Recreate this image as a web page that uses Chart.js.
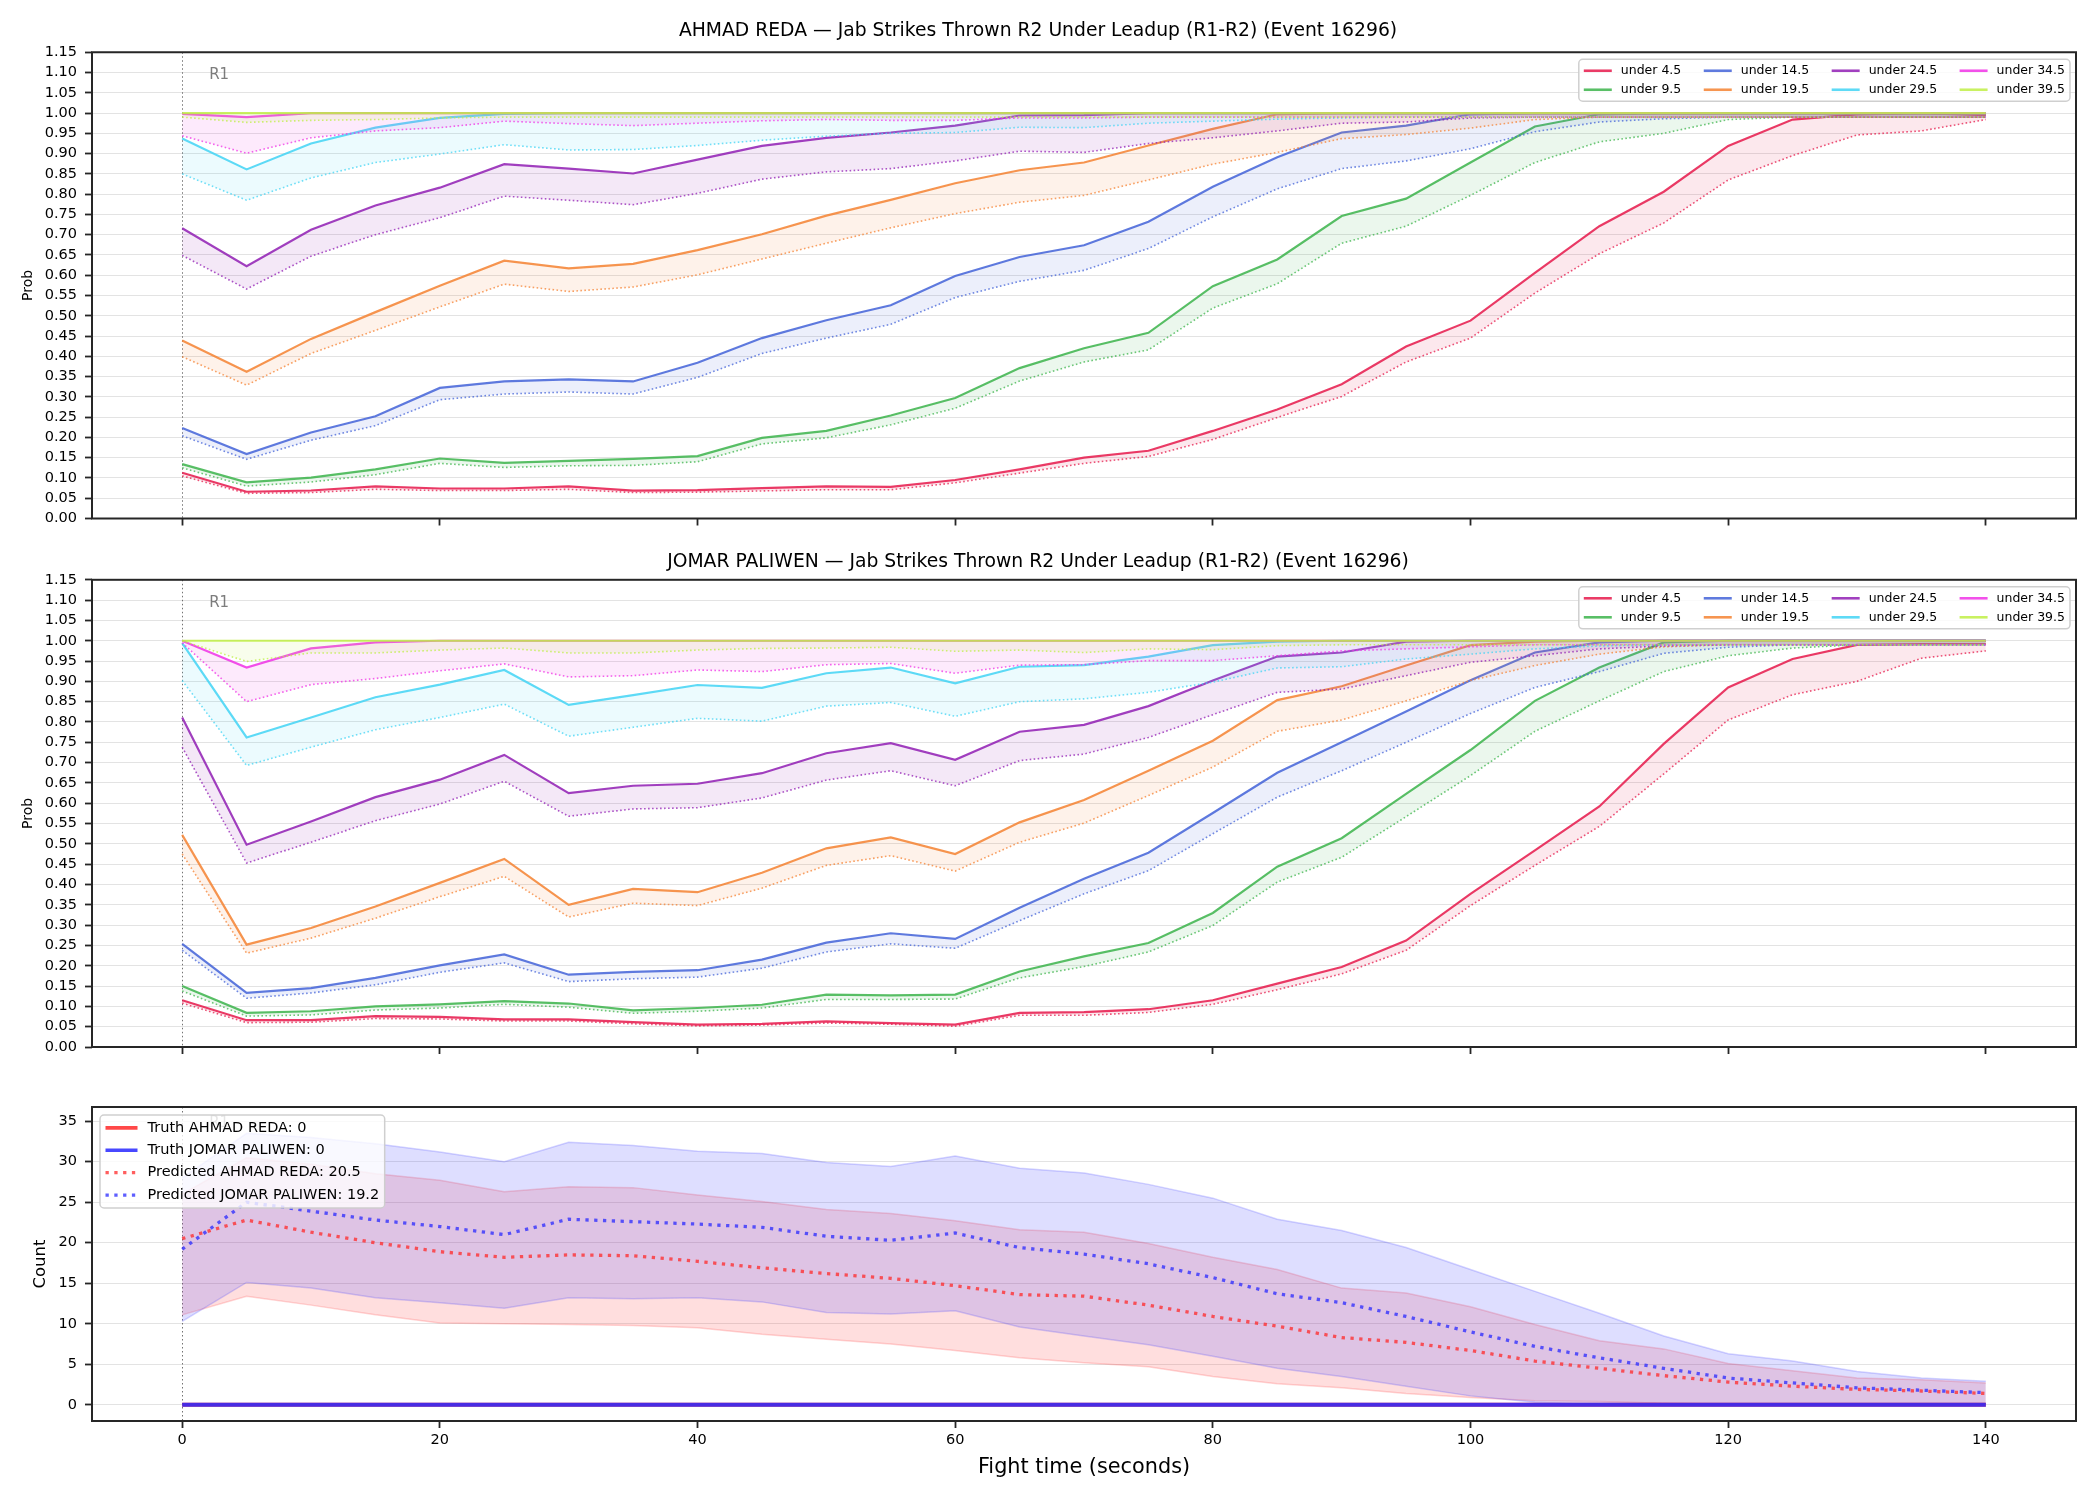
<!DOCTYPE html>
<html>
<head>
<meta charset="utf-8">
<script src="https://cdn.jsdelivr.net/npm/chart.js@4.4.1/dist/chart.umd.min.js"></script>
<style>
html,body{margin:0;padding:0;background:#ffffff;}
body{width:2100px;height:1500px;position:relative;overflow:hidden;}
canvas{position:absolute;left:0;}
</style>
</head>
<body>
<canvas id="c1" width="2100" height="540" style="top:0px"></canvas>
<canvas id="c2" width="2100" height="540" style="top:540px"></canvas>
<canvas id="c3" width="2100" height="420" style="top:1080px"></canvas>
<script>
// ---------------- DATA ----------------
const times = [0,5,10,15,20,25,30,35,40,45,50,55,60,65,70,75,80,85,90,95,100,105,110,115,120,125,130,135,140];
const thresholds = ['under 4.5','under 9.5','under 14.5','under 19.5','under 24.5','under 29.5','under 34.5','under 39.5'];
const xTickValues = [0,20,40,60,80,100,120,140];
const probTickValues = [0.00,0.05,0.10,0.15,0.20,0.25,0.30,0.35,0.40,0.45,0.50,0.55,0.60,0.65,0.70,0.75,0.80,0.85,0.90,0.95,1.00,1.05,1.10,1.15];
const countTickValues = [0,5,10,15,20,25,30,35];
const roundStarts = [0];
const roundNames = ['R1'];
const titleReda = 'AHMAD REDA — Jab Strikes Thrown R2 Under Leadup (R1-R2) (Event 16296)';
const titlePaliwen = 'JOMAR PALIWEN — Jab Strikes Thrown R2 Under Leadup (R1-R2) (Event 16296)';

// AHMAD REDA: solid line and dotted line per threshold
const reda_u4_5 = [0.113,0.066,0.069,0.079,0.074,0.074,0.079,0.069,0.070,0.075,0.079,0.078,0.095,0.121,0.150,0.167,0.216,0.269,0.331,0.424,0.488,0.606,0.721,0.806,0.919,0.984,0.997,1.000,0.995];
const reda_u4_5_dot = [0.105,0.062,0.064,0.072,0.069,0.069,0.072,0.064,0.065,0.068,0.071,0.071,0.088,0.112,0.136,0.153,0.195,0.249,0.301,0.386,0.445,0.556,0.653,0.729,0.835,0.895,0.946,0.956,0.984];
const reda_u9_5 = [0.134,0.089,0.101,0.121,0.148,0.137,0.142,0.147,0.154,0.199,0.216,0.254,0.297,0.371,0.420,0.458,0.573,0.639,0.746,0.789,0.878,0.967,0.997,1.000,1.000,1.000,1.000,1.000,1.000];
const reda_u9_5_dot = [0.125,0.080,0.090,0.108,0.136,0.126,0.130,0.131,0.140,0.184,0.199,0.231,0.272,0.339,0.386,0.416,0.519,0.579,0.679,0.721,0.797,0.878,0.929,0.950,0.984,0.990,0.990,0.990,0.990];
const reda_u14_5 = [0.223,0.159,0.212,0.252,0.322,0.338,0.343,0.338,0.384,0.445,0.489,0.526,0.598,0.645,0.674,0.732,0.818,0.891,0.952,0.969,0.997,1.000,1.000,1.000,1.000,1.000,1.000,1.000,1.000];
const reda_u14_5_dot = [0.204,0.146,0.193,0.229,0.293,0.307,0.312,0.307,0.348,0.407,0.445,0.479,0.545,0.585,0.612,0.666,0.744,0.813,0.863,0.882,0.912,0.954,0.978,0.986,0.990,0.990,0.990,0.990,0.990];
const reda_u19_5 = [0.439,0.362,0.443,0.509,0.574,0.636,0.617,0.628,0.662,0.701,0.747,0.786,0.827,0.859,0.878,0.920,0.961,0.997,1.000,1.000,1.000,1.000,1.000,1.000,1.000,1.000,1.000,1.000,1.000];
const reda_u19_5_dot = [0.399,0.329,0.407,0.464,0.522,0.578,0.560,0.571,0.601,0.640,0.679,0.717,0.752,0.780,0.797,0.835,0.874,0.903,0.937,0.947,0.963,0.984,0.990,0.990,0.990,0.990,0.990,0.990,0.990];
const reda_u24_5 = [0.716,0.622,0.712,0.772,0.816,0.874,0.863,0.851,0.885,0.919,0.939,0.952,0.969,0.994,0.995,1.000,1.000,1.000,1.000,1.000,1.000,1.000,1.000,1.000,1.000,1.000,1.000,1.000,1.000];
const reda_u24_5_dot = [0.649,0.566,0.647,0.700,0.742,0.795,0.785,0.774,0.802,0.837,0.855,0.863,0.882,0.906,0.903,0.925,0.939,0.956,0.975,0.978,0.988,0.990,0.990,0.990,0.990,0.990,0.990,0.990,0.990];
const reda_u29_5 = [0.937,0.861,0.925,0.964,0.988,0.998,1.000,1.000,1.000,1.000,1.000,1.000,1.000,1.000,1.000,1.000,1.000,1.000,1.000,1.000,1.000,1.000,1.000,1.000,1.000,1.000,1.000,1.000,1.000];
const reda_u29_5_dot = [0.850,0.785,0.840,0.878,0.899,0.922,0.909,0.910,0.920,0.933,0.943,0.950,0.952,0.965,0.964,0.975,0.980,0.985,0.988,0.990,0.990,0.990,0.990,0.990,0.990,0.990,0.990,0.990,0.990];
const reda_u34_5 = [0.998,0.990,1.000,1.000,1.000,1.000,1.000,1.000,1.000,1.000,1.000,1.000,1.000,1.000,1.000,1.000,1.000,1.000,1.000,1.000,1.000,1.000,1.000,1.000,1.000,1.000,1.000,1.000,1.000];
const reda_u34_5_dot = [0.944,0.901,0.939,0.956,0.964,0.980,0.974,0.969,0.975,0.981,0.984,0.982,0.982,0.988,0.988,0.990,0.990,0.990,0.990,0.990,0.990,0.990,0.990,0.990,0.990,0.990,0.990,0.990,0.990];
const reda_u39_5 = [1.000,1.000,1.000,1.000,1.000,1.000,1.000,1.000,1.000,1.000,1.000,1.000,1.000,1.000,1.000,1.000,1.000,1.000,1.000,1.000,1.000,1.000,1.000,1.000,1.000,1.000,1.000,1.000,1.000];
const reda_u39_5_dot = [0.990,0.977,0.982,0.984,0.988,0.990,0.990,0.990,0.990,0.990,0.990,0.990,0.990,0.990,0.990,0.990,0.990,0.990,0.990,0.990,0.990,0.990,0.990,0.990,0.990,0.990,0.990,0.990,0.990];

// JOMAR PALIWEN
const paliwen_u4_5 = [0.115,0.066,0.066,0.076,0.074,0.068,0.068,0.061,0.055,0.057,0.063,0.059,0.055,0.084,0.086,0.093,0.115,0.156,0.197,0.262,0.377,0.484,0.592,0.746,0.885,0.955,0.990,0.992,0.992];
const paliwen_u4_5_dot = [0.108,0.060,0.061,0.070,0.069,0.064,0.064,0.057,0.052,0.054,0.059,0.056,0.051,0.078,0.078,0.085,0.105,0.141,0.180,0.238,0.348,0.447,0.543,0.672,0.805,0.867,0.900,0.957,0.975];
const paliwen_u9_5 = [0.150,0.084,0.088,0.100,0.105,0.113,0.107,0.090,0.096,0.104,0.129,0.127,0.129,0.186,0.223,0.256,0.330,0.444,0.514,0.623,0.731,0.852,0.934,0.996,1.000,1.000,1.000,1.000,1.000];
const paliwen_u9_5_dot = [0.138,0.076,0.079,0.091,0.096,0.105,0.098,0.083,0.088,0.096,0.117,0.117,0.118,0.170,0.198,0.234,0.299,0.406,0.467,0.567,0.668,0.777,0.852,0.924,0.963,0.982,0.990,0.990,0.990];
const paliwen_u14_5 = [0.254,0.133,0.145,0.170,0.201,0.228,0.178,0.185,0.189,0.215,0.257,0.280,0.266,0.343,0.414,0.478,0.576,0.675,0.750,0.826,0.903,0.971,0.996,1.000,1.000,1.000,1.000,1.000,1.000];
const paliwen_u14_5_dot = [0.238,0.120,0.133,0.153,0.184,0.207,0.161,0.168,0.172,0.194,0.234,0.254,0.243,0.311,0.377,0.434,0.525,0.615,0.680,0.750,0.821,0.885,0.924,0.969,0.984,0.990,0.990,0.990,0.990];
const paliwen_u19_5 = [0.522,0.252,0.293,0.346,0.404,0.463,0.350,0.389,0.381,0.429,0.489,0.516,0.475,0.553,0.608,0.680,0.754,0.854,0.888,0.939,0.989,0.998,1.000,1.000,1.000,1.000,1.000,1.000,1.000];
const paliwen_u19_5_dot = [0.475,0.231,0.268,0.317,0.370,0.420,0.320,0.354,0.348,0.391,0.447,0.471,0.433,0.504,0.551,0.619,0.689,0.777,0.805,0.852,0.902,0.939,0.967,0.985,0.990,0.990,0.990,0.990,0.990];
const paliwen_u24_5 = [0.811,0.498,0.555,0.615,0.658,0.719,0.625,0.643,0.648,0.674,0.723,0.748,0.707,0.776,0.793,0.839,0.902,0.961,0.971,0.998,1.000,1.000,1.000,1.000,1.000,1.000,1.000,1.000,1.000];
const paliwen_u24_5_dot = [0.738,0.453,0.504,0.557,0.598,0.654,0.568,0.586,0.589,0.613,0.657,0.680,0.643,0.705,0.721,0.762,0.818,0.873,0.881,0.914,0.947,0.963,0.980,0.987,0.990,0.990,0.990,0.990,0.990];
const paliwen_u29_5 = [0.994,0.762,0.811,0.861,0.892,0.928,0.842,0.866,0.891,0.884,0.920,0.934,0.895,0.936,0.940,0.961,0.989,0.998,1.000,1.000,1.000,1.000,1.000,1.000,1.000,1.000,1.000,1.000,1.000];
const paliwen_u29_5_dot = [0.902,0.693,0.738,0.781,0.811,0.844,0.765,0.787,0.809,0.802,0.839,0.848,0.814,0.850,0.857,0.873,0.898,0.933,0.936,0.955,0.967,0.980,0.987,0.990,0.990,0.990,0.990,0.990,0.990];
const paliwen_u34_5 = [1.000,0.934,0.981,0.996,1.000,1.000,1.000,1.000,1.000,1.000,1.000,1.000,1.000,1.000,1.000,1.000,1.000,1.000,1.000,1.000,1.000,1.000,1.000,1.000,1.000,1.000,1.000,1.000,1.000];
const paliwen_u34_5_dot = [0.995,0.850,0.892,0.907,0.926,0.943,0.911,0.914,0.928,0.924,0.941,0.944,0.920,0.940,0.941,0.951,0.951,0.963,0.975,0.980,0.985,0.990,0.990,0.990,0.990,0.990,0.990,0.990,0.990];
const paliwen_u39_5 = [1.000,1.000,1.000,1.000,1.000,1.000,1.000,1.000,1.000,1.000,1.000,1.000,1.000,1.000,1.000,1.000,1.000,1.000,1.000,1.000,1.000,1.000,1.000,1.000,1.000,1.000,1.000,1.000,1.000];
const paliwen_u39_5_dot = [1.000,0.949,0.970,0.970,0.977,0.982,0.970,0.970,0.977,0.981,0.982,0.984,0.974,0.977,0.971,0.980,0.978,0.988,0.990,0.990,0.990,0.990,0.990,0.990,0.990,0.990,0.990,0.990,0.990];

// Count panel
const redaTruth    = [0,0,0,0,0,0,0,0,0,0,0,0,0,0,0,0,0,0,0,0,0,0,0,0,0,0,0,0,0];
const paliwenTruth = [0,0,0,0,0,0,0,0,0,0,0,0,0,0,0,0,0,0,0,0,0,0,0,0,0,0,0,0,0];
const redaPred    = [20.5,22.8,21.3,20.0,18.9,18.2,18.5,18.4,17.7,16.9,16.2,15.6,14.7,13.6,13.4,12.3,10.9,9.7,8.3,7.7,6.7,5.4,4.5,3.6,2.8,2.3,1.9,1.7,1.4];
const paliwenPred = [19.2,25.0,23.9,22.8,22.0,21.0,22.9,22.6,22.3,21.9,20.8,20.3,21.2,19.4,18.6,17.4,15.7,13.7,12.6,10.9,9.0,7.2,5.8,4.5,3.3,2.7,2.1,1.8,1.5];
const redaHigh    = [26.0,30.5,29.7,28.5,27.7,26.3,26.9,26.8,25.9,25.1,24.1,23.6,22.7,21.6,21.3,19.9,18.2,16.7,14.4,13.8,12.1,9.9,7.9,6.9,5.1,4.2,3.3,3.1,2.7];
const redaLow     = [11.1,13.4,12.3,11.1,10.1,10.0,9.9,9.8,9.5,8.7,8.1,7.5,6.7,5.8,5.2,4.7,3.5,2.6,2.1,1.4,0.9,0.5,0.4,0.2,0.1,0.1,0.1,0.1,0.1];
const paliwenHigh = [28.0,33.5,33.0,32.2,31.2,30.0,32.4,32.0,31.3,31.0,29.9,29.4,30.7,29.2,28.6,27.2,25.5,22.9,21.5,19.4,16.7,14.0,11.3,8.5,6.3,5.4,4.1,3.3,2.9];
const paliwenLow  = [10.3,15.1,14.4,13.2,12.6,11.9,13.2,13.1,13.2,12.7,11.4,11.2,11.6,9.6,8.5,7.4,6.0,4.5,3.5,2.3,1.1,0.3,0.0,0.0,0.0,0.0,0.0,0.0,0.0];
const countLegendLabels = ['Truth AHMAD REDA: 0','Truth JOMAR PALIWEN: 0','Predicted AHMAD REDA: 20.5','Predicted JOMAR PALIWEN: 19.2'];

// ---------------- STYLE / HELPERS ----------------
Chart.defaults.font.family = "'DejaVu Sans', sans-serif";
Chart.defaults.color = '#000';
const palette = ['#e6194b','#3cb44b','#4363d8','#f58231','#911eb4','#42d4f4','#f032e6','#bfef45'];
function rgba(hex, a){const n=parseInt(hex.slice(1),16);return 'rgba('+((n>>16)&255)+','+((n>>8)&255)+','+(n&255)+','+a+')';}
function xy(arr){return times.map((t,i)=>({x:t,y:arr[i]}));}

function drawLegend(ctx, a, L){
  ctx.save();
  ctx.font = L.fontSize + "px 'DejaVu Sans'";
  const ncol = Math.ceil(L.items.length / L.rows);
  const colW = [];
  for (let c=0;c<ncol;c++){
    let m=0;
    for (let r=0;r<L.rows;r++){const it=L.items[c*L.rows+r]; if(it) m=Math.max(m, ctx.measureText(it.label).width);}
    colW.push(m);
  }
  let w = 2*L.padX + (ncol-1)*L.colSpacing;
  colW.forEach(m=>{w += L.handleLen + L.handlePad + m;});
  const h = 2*L.padY + L.rows*L.rowH;
  const x0 = L.align==='right' ? a.right - L.offX - w : a.left + L.offX;
  const y0 = a.top + L.offY;
  ctx.beginPath();
  if (ctx.roundRect) ctx.roundRect(x0, y0, w, h, 4); else ctx.rect(x0, y0, w, h);
  ctx.fillStyle = 'rgba(255,255,255,0.8)';
  ctx.fill();
  ctx.strokeStyle = 'rgba(204,204,204,0.95)';
  ctx.lineWidth = 1.5;
  ctx.stroke();
  let cx = x0 + L.padX;
  for (let c=0;c<ncol;c++){
    for (let r=0;r<L.rows;r++){
      const it = L.items[c*L.rows+r]; if(!it) continue;
      const y = y0 + L.padY + L.rowH*(r+0.5);
      ctx.beginPath();
      ctx.strokeStyle = it.color; ctx.lineWidth = it.width;
      ctx.setLineDash(it.dash || []);
      ctx.moveTo(cx, y); ctx.lineTo(cx + L.handleLen, y); ctx.stroke();
      ctx.setLineDash([]);
      ctx.fillStyle = '#000'; ctx.textAlign = 'left'; ctx.textBaseline = 'middle';
      ctx.fillText(it.label, cx + L.handleLen + L.handlePad, y);
    }
    cx += L.handleLen + L.handlePad + colW[c] + L.colSpacing;
  }
  ctx.restore();
}

const decor = {
  id: 'decor',
  beforeDatasetsDraw(chart){
    const {ctx, chartArea:a, scales:{x}} = chart;
    ctx.save();
    ctx.strokeStyle = 'rgba(90,90,90,0.85)'; ctx.lineWidth = 1; ctx.setLineDash([1.5,2.5]);
    roundStarts.forEach(t=>{
      const px = Math.round(x.getPixelForValue(t)) + 0.5;
      ctx.beginPath(); ctx.moveTo(px, a.top); ctx.lineTo(px, a.bottom); ctx.stroke();
    });
    ctx.restore();
  },
  afterDatasetsDraw(chart, args, opts){
    const {ctx, chartArea:a, scales:{x}} = chart;
    ctx.save();
    ctx.font = "15px 'DejaVu Sans'"; ctx.fillStyle = 'rgba(70,70,70,0.7)';
    ctx.textAlign = 'left'; ctx.textBaseline = 'middle';
    roundStarts.forEach((t,i)=>ctx.fillText(roundNames[i], x.getPixelForValue(t) + 27, a.top + 0.05*(a.bottom - a.top)));
    ctx.strokeStyle = '#262626'; ctx.lineWidth = 2;
    ctx.strokeRect(a.left, a.top, a.right - a.left, a.bottom - a.top);
    ctx.restore();
    if (opts && opts.legend) drawLegend(ctx, a, opts.legend);
  }
};

function xScale(g, showLabels){
  const s = {
    type:'linear', min:-7, max:147,
    afterBuildTicks: sc=>{ sc.ticks = xTickValues.map(v=>({value:v})); },
    afterFit: sc=>{ sc.height = g.xH; },
    grid:{display:true, drawOnChartArea:false, drawTicks:true, tickLength:7, tickWidth:1.8, tickColor:'#262626'},
    border:{display:false},
    ticks:{autoSkip:false, maxRotation:0, padding:4, font:{size:14.5}, color:'#000', callback: showLabels ? (v=>String(v)) : (()=> '')}
  };
  if (showLabels) s.title = {display:true, text:'Fight time (seconds)', font:{size:20.8}, color:'#000', padding:{top:0, bottom:19.5}};
  return s;
}

function makeProb(id, title, lines, dots, g){
  const datasets = [];
  thresholds.forEach((th,i)=>{
    datasets.push({label:th, data:xy(lines[i]), borderColor:rgba(palette[i],0.85), borderWidth:2.2,
      pointRadius:0, fill:false, tension:0, order:-(2*i)});
    datasets.push({label:th+' dotted', data:xy(dots[i]), borderColor:rgba(palette[i],0.75), borderWidth:1.6,
      borderDash:[1.6,2.4], pointRadius:0, tension:0, fill:'-1', backgroundColor:rgba(palette[i],0.1), order:-(2*i+1)});
  });
  const legendItems = thresholds.map((th,i)=>({label:th, color:rgba(palette[i],0.85), width:2.6}));
  return new Chart(document.getElementById(id), {
    type:'line',
    data:{datasets},
    options:{
      responsive:false, animation:false, devicePixelRatio:1,
      layout:{padding:{left:0, right:24, top:0, bottom:0}},
      plugins:{
        legend:{display:false}, tooltip:{enabled:false},
        title:{display:true, text:title, color:'#000', font:{size:18.75, weight:'normal'}, padding:{top:g.tTop, bottom:g.tBot}},
        decor:{legend:{items:legendItems, rows:2, align:'right', offX:6, offY:7, fontSize:12.5,
          handleLen:28, handlePad:9, colSpacing:22.5, padX:5, padY:2, rowH:19}}
      },
      scales:{
        x: xScale(g, false),
        y:{
          min:0, max:1.15,
          afterBuildTicks: sc=>{ sc.ticks = probTickValues.map(v=>({value:v})); },
          afterFit: sc=>{ sc.width = 92; },
          grid:{color:'#e3e3e3', lineWidth:1, drawTicks:true, tickLength:7, tickWidth:1.8, tickColor:'#262626'},
          border:{display:false},
          ticks:{autoSkip:false, padding:8, font:{size:14.5}, color:'#000', callback:v=>Number(v).toFixed(2)},
          title:{display:true, text:'Prob', font:{size:14}, color:'#000', padding:{top:19.6, bottom:0}}
        }
      }
    },
    plugins:[decor]
  });
}

makeProb('c1', titleReda,
  [reda_u4_5, reda_u9_5, reda_u14_5, reda_u19_5, reda_u24_5, reda_u29_5, reda_u34_5, reda_u39_5],
  [reda_u4_5_dot, reda_u9_5_dot, reda_u14_5_dot, reda_u19_5_dot, reda_u24_5_dot, reda_u29_5_dot, reda_u34_5_dot, reda_u39_5_dot],
  {tTop:19.75, tBot:10, xH:21.5});
makeProb('c2', titlePaliwen,
  [paliwen_u4_5, paliwen_u9_5, paliwen_u14_5, paliwen_u19_5, paliwen_u24_5, paliwen_u29_5, paliwen_u34_5, paliwen_u39_5],
  [paliwen_u4_5_dot, paliwen_u9_5_dot, paliwen_u14_5_dot, paliwen_u19_5_dot, paliwen_u24_5_dot, paliwen_u29_5_dot, paliwen_u34_5_dot, paliwen_u39_5_dot],
  {tTop:10.75, tBot:6.55, xH:33});

// ---------------- COUNT PANEL ----------------
(function(){
  const RED = '255,40,40', BLUE = '40,40,255';
  const g = {xH:79};
  const ds = [
    {data:xy(redaLow),  borderColor:'rgba(255,60,60,0.22)', borderWidth:1.5, fill:false},
    {data:xy(redaHigh), borderColor:'rgba(255,60,60,0.22)', borderWidth:1.5, fill:'-1', backgroundColor:'rgba(255,60,60,0.17)'},
    {data:xy(paliwenLow),  borderColor:'rgba(60,60,255,0.22)', borderWidth:1.5, fill:false},
    {data:xy(paliwenHigh), borderColor:'rgba(60,60,255,0.22)', borderWidth:1.5, fill:'-1', backgroundColor:'rgba(60,60,255,0.17)'},
    {data:xy(redaTruth),    borderColor:'rgba('+RED+',0.85)',  borderWidth:4, fill:false},
    {data:xy(paliwenTruth), borderColor:'rgba('+BLUE+',0.85)', borderWidth:4, fill:false},
    {data:xy(redaPred),    borderColor:'rgba('+RED+',0.75)',  borderWidth:3.3, borderDash:[3.3,5.5], fill:false},
    {data:xy(paliwenPred), borderColor:'rgba('+BLUE+',0.75)', borderWidth:3.3, borderDash:[3.3,5.5], fill:false}
  ];
  ds.forEach((d,i)=>{ d.pointRadius = 0; d.tension = 0; d.order = -i; });
  const legendItems = [
    {label:countLegendLabels[0], color:'rgba('+RED+',0.85)', width:3.6},
    {label:countLegendLabels[1], color:'rgba('+BLUE+',0.85)', width:3.6},
    {label:countLegendLabels[2], color:'rgba('+RED+',0.75)', width:3.3, dash:[3.3,5.5]},
    {label:countLegendLabels[3], color:'rgba('+BLUE+',0.75)', width:3.3, dash:[3.3,5.5]}
  ];
  new Chart(document.getElementById('c3'), {
    type:'line',
    data:{datasets:ds},
    options:{
      responsive:false, animation:false, devicePixelRatio:1,
      layout:{padding:{left:0, right:24, top:27, bottom:0}},
      plugins:{
        legend:{display:false}, tooltip:{enabled:false}, title:{display:false},
        decor:{legend:{items:legendItems, rows:4, align:'left', offX:8, offY:8, fontSize:14.5,
          handleLen:32, handlePad:10, colSpacing:0, padX:5.5, padY:1.7, rowH:22.4}}
      },
      scales:{
        x: xScale(g, true),
        y:{
          min:-2.0, max:36.75,
          afterBuildTicks: sc=>{ sc.ticks = countTickValues.map(v=>({value:v})); },
          afterFit: sc=>{ sc.width = 92; },
          grid:{color:'#e3e3e3', lineWidth:1, drawTicks:true, tickLength:7, tickWidth:1.8, tickColor:'#262626'},
          border:{display:false},
          ticks:{autoSkip:false, padding:8, font:{size:14.5}, color:'#000', callback:v=>String(v)},
          title:{display:true, text:'Count', font:{size:16.5}, color:'#000', padding:{top:31, bottom:0}}
        }
      }
    },
    plugins:[decor]
  });
})();
</script>
</body>
</html>
